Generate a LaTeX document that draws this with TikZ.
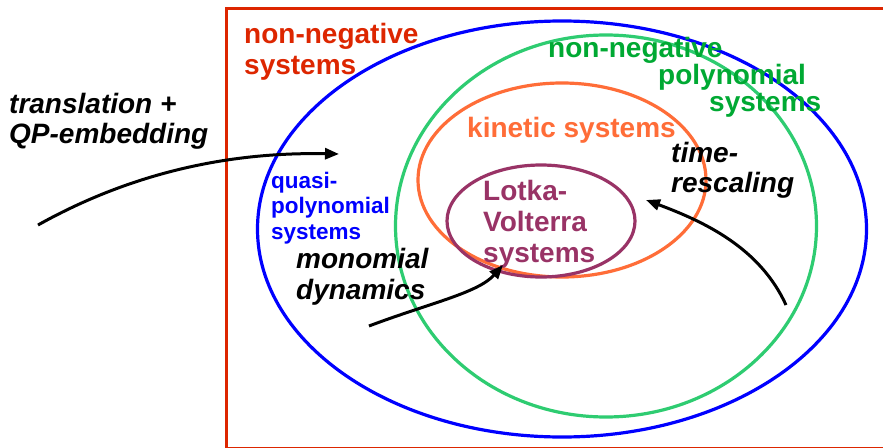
\documentclass[tikz,border=0pt]{standalone}
\usepackage{fontspec}
\setmainfont{Liberation Sans}
\usetikzlibrary{arrows.meta}
\definecolor{cred}{RGB}{221,38,0}
\definecolor{cblue}{RGB}{0,0,255}
\definecolor{cgreenl}{RGB}{46,204,113}
\definecolor{cgreent}{RGB}{0,169,51}
\definecolor{corange}{RGB}{255,109,56}
\definecolor{cpurple}{RGB}{153,51,102}
\tikzset{
  ring/.style={line width=3.2pt},
  lbl/.style={anchor=base west, inner sep=0pt, font=\fontsize{28}{30}\selectfont\bfseries},
  ilbl/.style={lbl, font=\fontsize{28}{30}\selectfont\bfseries\itshape},
  slbl/.style={anchor=base west, inner sep=0pt, font=\fontsize{22.5}{26}\selectfont\bfseries},
  arr/.style={line width=3pt, -{Triangle[length=14pt,width=11pt]}}
}
\begin{document}
\begin{tikzpicture}[x=1pt,y=-1pt]
\useasboundingbox (0,0) rectangle (883,447);
\fill[white] (0,0) rectangle (883,447);
% frame
\draw[cred, line width=3pt] (226,8) rectangle (895,448.8);
% ellipses
\draw[ring, cblue] (562,229) ellipse [x radius=304.5pt, y radius=208pt];
\draw[ring, cgreenl] (606,226) ellipse [x radius=210.5pt, y radius=191pt];
\draw[ring, corange] (562,180) ellipse [x radius=144pt, y radius=97pt];
\draw[ring, cpurple] (541,221) ellipse [x radius=94pt, y radius=56pt];
% labels
\node[lbl, text=cred] (nn1) at (244,43) {non-negative};
\node[lbl, text=cred] (nn2) at (244,74) {systems};
\node[lbl, text=cgreent] (np1) at (548,57) {non-negative};
\node[lbl, text=cgreent] (np2) at (658,84) {polynomial};
\node[lbl, text=cgreent] (np3) at (709,111) {systems};
\node[lbl, text=corange] (kin) at (467,137) {kinetic systems};
\node[lbl, text=cpurple] (lv1) at (483,200) {Lotka-};
\node[lbl, text=cpurple] (lv2) at (483,231) {Volterra};
\node[lbl, text=cpurple] (lv3) at (483,262) {systems};
\node[slbl, text=cblue] (qp1) at (271,188) {quasi-};
\node[slbl, text=cblue] (qp2) at (271,213) {polynomial};
\node[slbl, text=cblue] (qp3) at (271,239) {systems};
\node[ilbl] (tr1) at (9,113) {translation +};
\node[ilbl] (tr2) at (9,143) {QP-embedding};
\node[ilbl] (ts1) at (671,162) {time-};
\node[ilbl] (ts2) at (671,192) {rescaling};
\node[ilbl] (md1) at (296,268) {monomial};
\node[ilbl] (md2) at (296,299) {dynamics};
% arrows
\coordinate (a1s) at (38,225);
\coordinate (a1e) at (339,154);
\coordinate (a2s) at (369,326);
\coordinate (a2e) at (503,265);
\coordinate (a3s) at (786,305);
\coordinate (a3e) at (646,200);
\draw[arr] (a1s) .. controls (140,168) and (240,152) .. (a1e);
\draw[arr] (a2s) .. controls (430,303) and (478,293) .. (a2e);
\draw[arr] (a3s) .. controls (760,248) and (705,222) .. (a3e);
\end{tikzpicture}
\end{document}
